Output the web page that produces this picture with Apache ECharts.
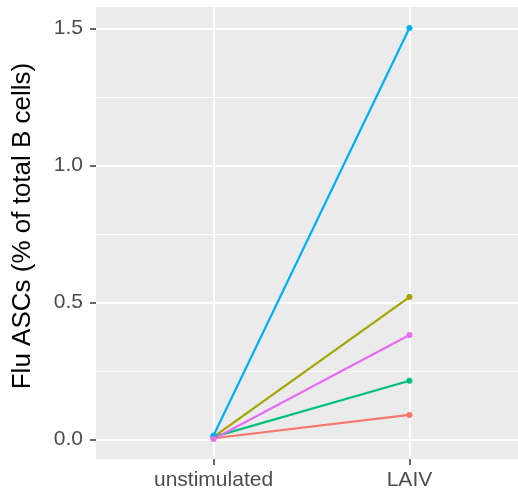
<!DOCTYPE html>
<html>
<head>
<meta charset="utf-8">
<script src="https://cdn.jsdelivr.net/npm/echarts@6/dist/echarts.min.js"></script>
<style>
  html, body { margin: 0; padding: 0; background: #fff; }
  #chart { width: 518px; height: 493px; }
</style>
</head>
<body>
<div id="chart"></div>
<script>
// data
var categories = ['unstimulated', 'LAIV'];
var subjectColors = ['#F8766D', '#A3A500', '#00BF7D', '#00B0F6', '#E76BF3'];
var unstimulated = [0.005, 0.010, 0.010, 0.015, 0.002];
var laiv = [0.090, 0.520, 0.215, 1.502, 0.382];
var yTicks = [0, 0.5, 1, 1.5];
var yMinorTicks = [0.25, 0.75, 1.25];

var chart = echarts.init(document.getElementById('chart'));

var series = [];
// minor grid lines (ggplot style), drawn under the data
series.push({
  type: 'line',
  data: [],
  silent: true,
  z: 1,
  markLine: {
    silent: true,
    z: 1,
    symbol: 'none',
    label: { show: false },
    lineStyle: { color: '#ffffff', width: 1, type: 'solid' },
    emphasis: { disabled: true },
    data: yMinorTicks.map(function (v) { return { yAxis: v }; })
  }
});
for (var i = 0; i < unstimulated.length; i++) {
  series.push({
    type: 'line',
    data: [[1, unstimulated[i]], [2, laiv[i]]],
    symbol: 'circle',
    symbolSize: 6,
    z: 3,
    lineStyle: { color: subjectColors[i], width: 2.2 },
    itemStyle: { color: subjectColors[i] },
    emphasis: { disabled: true }
  });
}

var option = {
  backgroundColor: '#fff',
  animation: false,
  grid: {
    left: 96,
    top: 7,
    width: 431,
    height: 452,
    outerBoundsMode: 'none',
    show: true,
    backgroundColor: '#EBEBEB',
    borderWidth: 0
  },
  xAxis: {
    type: 'value',
    min: 0.4,
    max: 2.6,
    axisLine: { show: false, onZero: false },
    axisTick: { show: true, customValues: [1, 2], length: 6, lineStyle: { color: '#333333', width: 1.5 } },
    axisLabel: {
      customValues: [1, 2],
      margin: 11,
      fontSize: 21,
      color: '#4D4D4D',
      fontFamily: 'Liberation Sans',
      formatter: function (v) { return categories[Math.round(v) - 1]; }
    },
    splitLine: { show: true, lineStyle: { color: '#ffffff', width: 2 } }
  },
  yAxis: {
    type: 'value',
    min: -0.0708,
    max: 1.5788,
    name: 'Flu ASCs (% of total B cells)',
    nameLocation: 'middle',
    nameGap: 60,
    nameTextStyle: { fontSize: 26, color: '#000000', fontFamily: 'Liberation Sans', padding: [0, 0, 0, 14] },
    axisLine: { show: false, onZero: false },
    axisTick: { show: true, customValues: yTicks, length: 6, lineStyle: { color: '#333333', width: 1.5 } },
    axisLabel: {
      customValues: yTicks,
      margin: 13,
      fontSize: 21,
      color: '#4D4D4D',
      fontFamily: 'Liberation Sans',
      formatter: function (v) { return v.toFixed(1); }
    },
    splitLine: { show: true, lineStyle: { color: '#ffffff', width: 2 } }
  },
  series: series
};

chart.setOption(option);
</script>
</body>
</html>
